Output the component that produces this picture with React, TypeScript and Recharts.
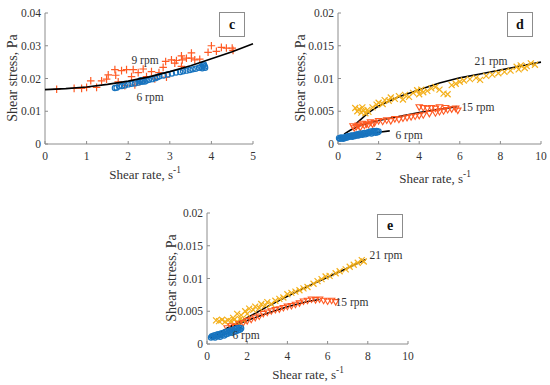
import React from "react";
import { Scatter, ScatterChart, XAxis, YAxis } from "recharts";

const FONT = '"Liberation Serif", "DejaVu Serif", serif';
const ORANGE = "#FF5A23";
const YELLOW = "#F4B01C";
const BLUE = "#1874BF";
const AXIS = "#8c8c8c";
const TEXT = "#333333";

// ---- panel c ----
const cTicksX = [0, 1, 2, 3, 4, 5];
const cTicksY = [0, 0.01, 0.02, 0.03, 0.04];
const c9x = [0.28, 0.7, 0.88, 1.0, 1.1, 1.24, 1.36, 1.48, 1.52, 1.68, 1.7, 1.76, 1.84, 1.92, 1.96, 2.08, 2.12, 2.16, 2.24, 2.28, 2.36, 2.44, 2.56, 2.64, 2.74, 2.84, 2.9, 2.92, 3.04, 3.12, 3.16, 3.28, 3.28, 3.3, 3.4, 3.52, 3.52, 3.6, 3.72, 3.92, 4.0, 4.12, 4.24, 4.36, 4.5, 4.52];
const c9y = [0.0167, 0.017, 0.017, 0.0173, 0.0193, 0.0173, 0.0193, 0.0198, 0.0211, 0.0227, 0.021, 0.019, 0.0224, 0.0178, 0.0227, 0.0206, 0.0227, 0.018, 0.0218, 0.019, 0.0229, 0.0206, 0.0221, 0.0199, 0.0218, 0.0234, 0.0252, 0.0204, 0.0257, 0.0247, 0.0255, 0.0269, 0.0237, 0.0257, 0.0262, 0.0278, 0.0262, 0.0257, 0.0259, 0.028, 0.03, 0.0283, 0.0295, 0.0293, 0.0293, 0.0286];
const c6x = [1.68, 1.72, 1.78, 1.85, 1.92, 2.0, 2.08, 2.16, 2.25, 2.28, 2.3, 2.33, 2.36, 2.4, 2.44, 2.5, 2.58, 2.65, 2.7, 2.75, 2.85, 2.95, 3.05, 3.15, 3.25, 3.32, 3.4, 3.48, 3.55, 3.62, 3.7, 3.76, 3.8, 3.82, 3.84, 3.85, 3.78];
const c6y = [0.0171, 0.0172, 0.0176, 0.0177, 0.0179, 0.0182, 0.0184, 0.0185, 0.0188, 0.0192, 0.0195, 0.019, 0.0193, 0.0191, 0.0194, 0.0196, 0.0198, 0.0201, 0.0204, 0.0207, 0.0209, 0.0212, 0.0215, 0.0218, 0.022, 0.0222, 0.0224, 0.0226, 0.0228, 0.023, 0.0233, 0.0236, 0.024, 0.0243, 0.0237, 0.0233, 0.0231];
const cFitX = [0, 0.5, 1, 1.5, 2, 2.5, 3, 3.5, 4, 4.5, 5];
const cFitY = [0.0166, 0.0169, 0.0174, 0.0182, 0.0192, 0.0205, 0.0221, 0.0239, 0.026, 0.0282, 0.0306];

// ---- panel d ----
const dTicksX = [0, 2, 4, 6, 8, 10];
const dTicksY = [0, 0.005, 0.01, 0.015, 0.02];
const d21x = [0.85, 0.95, 1.05, 1.15, 1.25, 1.35, 1.45, 1.2, 1.5, 1.7, 1.9, 2.0, 2.2, 2.3, 2.5, 2.6, 2.8, 3.0, 3.2, 3.3, 3.5, 3.7, 3.9, 4.0, 4.1, 4.2, 4.4, 4.6, 4.8, 5.0, 5.2, 5.4, 5.6, 5.8, 6.0, 6.2, 6.5, 6.8, 7.0, 7.3, 7.6, 7.9, 8.2, 8.5, 8.8, 8.9, 9.0, 9.2, 9.3, 9.5, 9.7];
const d21y = [0.0055, 0.005, 0.0053, 0.0048, 0.0051, 0.0047, 0.0052, 0.0056, 0.0049, 0.0056, 0.006, 0.0063, 0.0061, 0.0067, 0.0066, 0.0071, 0.0069, 0.0073, 0.0068, 0.0075, 0.0072, 0.0078, 0.0082, 0.0076, 0.0083, 0.0079, 0.0081, 0.0085, 0.0087, 0.0083, 0.0077, 0.0076, 0.009, 0.0092, 0.0095, 0.0097, 0.0099, 0.0101, 0.0098, 0.0104, 0.0106, 0.0108, 0.011, 0.0112, 0.0118, 0.0114, 0.012, 0.0116, 0.0119, 0.0123, 0.0121];
const d15x = [0.74, 0.8, 0.9, 1.0, 1.1, 1.2, 1.3, 1.4, 1.5, 1.6, 1.7, 1.8, 2.0, 2.2, 2.4, 2.6, 2.8, 3.0, 3.2, 3.4, 3.6, 3.8, 4.0, 4.2, 4.5, 4.8, 5.0, 5.2, 5.4, 5.6, 5.8, 5.9, 4.0, 4.2, 4.4, 4.6, 4.8, 5.0, 5.3];
const d15y = [0.0027, 0.0024, 0.0026, 0.0028, 0.0025, 0.0031, 0.0028, 0.003, 0.0029, 0.0033, 0.003, 0.0032, 0.0035, 0.0034, 0.0036, 0.0035, 0.0038, 0.0037, 0.0039, 0.004, 0.0041, 0.0042, 0.0043, 0.0044, 0.0046, 0.0047, 0.0049, 0.005, 0.0052, 0.0053, 0.0054, 0.0051, 0.0056, 0.0055, 0.0054, 0.0055, 0.0054, 0.0056, 0.0055];
const d6x = [0.05, 0.1, 0.15, 0.2, 0.25, 0.3, 0.35, 0.4, 0.45, 0.5, 0.55, 0.6, 0.65, 0.7, 0.75, 0.8, 0.85, 0.9, 0.95, 1.0, 1.05, 1.1, 1.15, 1.2, 1.25, 1.3, 1.35, 1.4, 1.45, 1.5, 1.55, 1.6, 1.65, 1.7, 1.75, 1.8, 1.85, 1.9, 1.95, 2.0];
const d6y = [0.0009, 0.0008, 0.001, 0.0009, 0.0008, 0.001, 0.0009, 0.0011, 0.001, 0.0012, 0.0011, 0.0012, 0.0013, 0.0011, 0.0013, 0.0012, 0.0014, 0.0013, 0.0015, 0.0013, 0.0014, 0.0016, 0.0015, 0.0014, 0.0016, 0.0017, 0.0015, 0.0017, 0.0016, 0.0018, 0.0017, 0.0019, 0.0016, 0.0018, 0.002, 0.0019, 0.0017, 0.002, 0.0018, 0.0019];
const dFit21x = [0.85, 1.5, 2, 3, 4, 5, 6, 7, 8, 9, 10];
const dFit21y = [0.003, 0.0048, 0.0058, 0.0072, 0.0083, 0.0093, 0.0101, 0.0107, 0.0113, 0.0119, 0.0125];
const dFit15x = [0.3, 0.6, 1, 1.5, 2, 3, 4, 5, 5.85];
const dFit15y = [0.0015, 0.0021, 0.0027, 0.0032, 0.0036, 0.0042, 0.0048, 0.0053, 0.0057];
const dFit6x = [0.05, 0.5, 1, 1.5, 2, 2.55];
const dFit6y = [0.0009, 0.0012, 0.0014, 0.0016, 0.0018, 0.002];

// ---- panel e ----
const eTicksX = [0, 2, 4, 6, 8, 10];
const eTicksY = [0, 0.005, 0.01, 0.015, 0.02];
const e21x = [0.45, 0.6, 0.75, 0.9, 1.05, 1.2, 1.35, 1.5, 1.65, 1.8, 1.3, 1.5, 1.7, 1.9, 2.0, 2.1, 2.3, 2.4, 2.6, 2.7, 2.9, 3.0, 3.2, 3.4, 3.6, 3.8, 4.0, 4.2, 4.4, 4.6, 4.8, 5.0, 5.3, 5.5, 5.7, 5.9, 6.1, 6.4, 6.6, 6.9, 7.1, 7.3, 7.5, 7.7, 7.8];
const e21y = [0.0036, 0.0035, 0.0037, 0.0034, 0.0036, 0.0035, 0.0037, 0.0034, 0.0038, 0.0036, 0.004, 0.0046, 0.0044, 0.005, 0.0046, 0.0054, 0.0052, 0.0057, 0.0055, 0.0061, 0.0059, 0.0064, 0.0061, 0.0066, 0.0069, 0.0071, 0.0076, 0.0078, 0.008, 0.0082, 0.0085, 0.0087, 0.0092, 0.0096, 0.0099, 0.0103, 0.0104, 0.0108, 0.0111, 0.0114, 0.0118, 0.0121, 0.0124, 0.0128, 0.0126];
const e15x = [1.0, 1.2, 1.4, 1.6, 1.8, 2.0, 2.2, 2.4, 2.6, 2.8, 3.0, 3.2, 3.4, 3.6, 3.8, 4.0, 4.2, 4.4, 4.6, 4.8, 5.0, 5.2, 5.4, 5.6, 5.8, 6.0, 6.2, 6.4];
const e15y = [0.0024, 0.0027, 0.0026, 0.003, 0.0032, 0.0035, 0.0037, 0.004, 0.0042, 0.0046, 0.0048, 0.005, 0.0052, 0.0053, 0.0055, 0.0057, 0.0058, 0.006, 0.0062, 0.0065, 0.0066, 0.0068, 0.0067, 0.0068, 0.0066, 0.0065, 0.0066, 0.0064];
const e6x = [0.2, 0.25, 0.3, 0.35, 0.4, 0.45, 0.5, 0.55, 0.6, 0.65, 0.7, 0.75, 0.8, 0.85, 0.9, 0.95, 1.0, 1.05, 1.1, 1.15, 1.2, 1.25, 1.3, 1.35, 1.4, 1.45, 1.5, 1.55, 1.6, 1.65, 1.7];
const e6y = [0.001, 0.0012, 0.0011, 0.0013, 0.001, 0.0014, 0.0012, 0.0015, 0.0013, 0.0011, 0.0016, 0.0014, 0.0017, 0.0013, 0.0018, 0.0015, 0.0019, 0.0016, 0.002, 0.0018, 0.0021, 0.0017, 0.0022, 0.0019, 0.0023, 0.002, 0.0024, 0.0021, 0.0025, 0.0022, 0.0024];
const eFit21x = [0.2, 1, 2, 3, 4, 5, 6, 7, 7.9];
const eFit21y = [0.0009, 0.0024, 0.004, 0.0057, 0.0073, 0.0088, 0.0102, 0.0116, 0.0129];
const eFit15x = [1.0, 2, 3, 4, 5, 5.6];
const eFit15y = [0.0024, 0.0036, 0.0047, 0.0057, 0.0065, 0.0068];
const eFit6x = [0.2, 1.0, 1.7];
const eFit6y = [0.0008, 0.0016, 0.0025];

type Pt = { x: number; y: number };
const zip = (xs: number[], ys: number[]): Pt[] => xs.map((x, i) => ({ x, y: ys[i] }));

type DotProps = { cx?: number; cy?: number };

const plus = (p: DotProps) => {
  const { cx = 0, cy = 0 } = p;
  return <path d={`M${cx - 3.8},${cy}H${cx + 3.8}M${cx},${cy - 3.8}V${cy + 3.8}`} stroke={ORANGE} strokeWidth={1.2} fill="none" />;
};
const cross = (p: DotProps) => {
  const { cx = 0, cy = 0 } = p;
  return <path d={`M${cx - 3},${cy - 3}L${cx + 3},${cy + 3}M${cx - 3},${cy + 3}L${cx + 3},${cy - 3}`} stroke={YELLOW} strokeWidth={1.2} fill="none" />;
};
const circle = (p: DotProps) => {
  const { cx = 0, cy = 0 } = p;
  return <circle cx={cx} cy={cy} r={2.6} stroke={BLUE} strokeWidth={1.2} fill="none" />;
};
const tri = (p: DotProps) => {
  const { cx = 0, cy = 0 } = p;
  return <path d={`M${cx - 3.2},${cy - 2.5}H${cx + 3.2}L${cx},${cy + 3}Z`} stroke={ORANGE} strokeWidth={1.1} fill="none" />;
};
const noDot = () => <g />;

type Series = { data: Pt[]; shape: (p: DotProps) => React.ReactElement };

function Panel(props: {
  left: number;
  top: number;
  width: number;
  plotLeft: number;
  plotRight: number;
  xMax: number;
  yMax: number;
  xTicks: number[];
  yTicks: number[];
  series: Series[];
  fits: Pt[][];
  fitsOnTop?: boolean;
}) {
  const { left, top, width, plotLeft, plotRight, xMax, yMax, xTicks, yTicks, series, fits, fitsOnTop } = props;
  const tickStyle = { fill: TEXT, fontSize: 11.5, fontFamily: FONT };
  const fitEls = fits.map((f, i) => (
    <Scatter key={`f${i}`} data={f} line={{ stroke: "#000", strokeWidth: 1.6 }} shape={noDot} isAnimationActive={false} />
  ));
  const dataEls = series.map((s, i) => (
    <Scatter key={`s${i}`} data={s.data} shape={s.shape} isAnimationActive={false} />
  ));
  return (
    <div style={{ position: "absolute", left, top }}>
      <ScatterChart
        width={width}
        height={190}
        margin={{ top: 13, right: width - plotRight, bottom: 16, left: plotLeft - 40 }}
      >
        <XAxis
          type="number"
          dataKey="x"
          domain={[0, xMax]}
          ticks={xTicks}
          interval={0}
          height={30}
          stroke={AXIS}
          tickSize={-3}
          tickMargin={11}
          tick={tickStyle}
        />
        <YAxis
          type="number"
          dataKey="y"
          domain={[0, yMax]}
          ticks={yTicks}
          interval={0}
          width={40}
          stroke={AXIS}
          tickSize={-3}
          tickMargin={7}
          tick={tickStyle}
        />
        {fitsOnTop ? dataEls : fitEls}
        {fitsOnTop ? fitEls : dataEls}
      </ScatterChart>
    </div>
  );
}

const abs = (x: number, y: number, extra: React.CSSProperties = {}): React.CSSProperties => ({
  position: "absolute",
  left: x,
  top: y,
  transform: "translate(-50%, -50%)",
  whiteSpace: "nowrap",
  fontFamily: FONT,
  color: TEXT,
  lineHeight: 1,
  ...extra,
});

function XTitle({ x, y }: { x: number; y: number }) {
  return (
    <div style={abs(x, y, { fontSize: 13 })}>
      Shear rate, s<sup style={{ fontSize: "0.72em", verticalAlign: "0.55em", lineHeight: 0 }}>-1</sup>
    </div>
  );
}

function YTitle({ x, y }: { x: number; y: number }) {
  return <div style={abs(x, y, { fontSize: 14, transform: "translate(-50%, -50%) rotate(-90deg)" })}>Shear stress, Pa</div>;
}

function Tag({ x, y, w, h, letter }: { x: number; y: number; w: number; h: number; letter: string }) {
  return (
    <div
      style={{
        position: "absolute",
        left: x,
        top: y,
        width: w - 2,
        height: h - 2,
        border: `1px solid ${AXIS}`,
        background: "#fff",
        fontFamily: FONT,
        fontWeight: "bold",
        fontSize: 14,
        color: "#111",
        display: "flex",
        alignItems: "center",
        justifyContent: "center",
      }}
    >
      {letter}
    </div>
  );
}

function Note({ x, y, text }: { x: number; y: number; text: string }) {
  return <div style={abs(x, y, { fontSize: 11.5 })}>{text}</div>;
}

export default function App() {
  return (
    <div style={{ position: "absolute", left: 0, top: 0, width: 550, height: 385, background: "#fff", overflow: "hidden" }}>
      <Panel
        left={0}
        top={0}
        width={270}
        plotLeft={45}
        plotRight={253}
        xMax={5}
        yMax={0.04}
        xTicks={cTicksX}
        yTicks={cTicksY}
        series={[
          { data: zip(c9x, c9y), shape: plus },
          { data: zip(c6x, c6y), shape: circle },
        ]}
        fits={[zip(cFitX, cFitY)]}
        fitsOnTop
      />
      <Panel
        left={270}
        top={0}
        width={280}
        plotLeft={68}
        plotRight={271}
        xMax={10}
        yMax={0.02}
        xTicks={dTicksX}
        yTicks={dTicksY}
        series={[
          { data: zip(d21x, d21y), shape: cross },
          { data: zip(d15x, d15y), shape: tri },
          { data: zip(d6x, d6y), shape: circle },
        ]}
        fits={[zip(dFit21x, dFit21y), zip(dFit15x, dFit15y), zip(dFit6x, dFit6y)]}
      />
      <Panel
        left={150}
        top={200}
        width={270}
        plotLeft={57}
        plotRight={258}
        xMax={10}
        yMax={0.02}
        xTicks={eTicksX}
        yTicks={eTicksY}
        series={[
          { data: zip(e21x, e21y), shape: cross },
          { data: zip(e15x, e15y), shape: tri },
          { data: zip(e6x, e6y), shape: circle },
        ]}
        fits={[zip(eFit21x, eFit21y), zip(eFit15x, eFit15y), zip(eFit6x, eFit6y)]}
      />

      <YTitle x={13} y={78} />
      <YTitle x={301} y={78} />
      <YTitle x={172} y={278} />
      <XTitle x={145} y={174} />
      <XTitle x={435} y={178} />
      <XTitle x={308} y={374} />

      <Tag x={219} y={12} w={26} h={25} letter="c" />
      <Tag x={507} y={12} w={26} h={25} letter="d" />
      <Tag x={377} y={214} w={26} h={24} letter="e" />

      <Note x={145} y={61} text="9 rpm" />
      <Note x={150} y={98} text="6 rpm" />
      <Note x={491} y={62} text="21 rpm" />
      <Note x={478} y={108} text="15 rpm" />
      <Note x={409} y={136} text="6 rpm" />
      <Note x={386} y={256} text="21 rpm" />
      <Note x={352} y={303} text="15 rpm" />
      <Note x={246} y={336} text="6 rpm" />
    </div>
  );
}
